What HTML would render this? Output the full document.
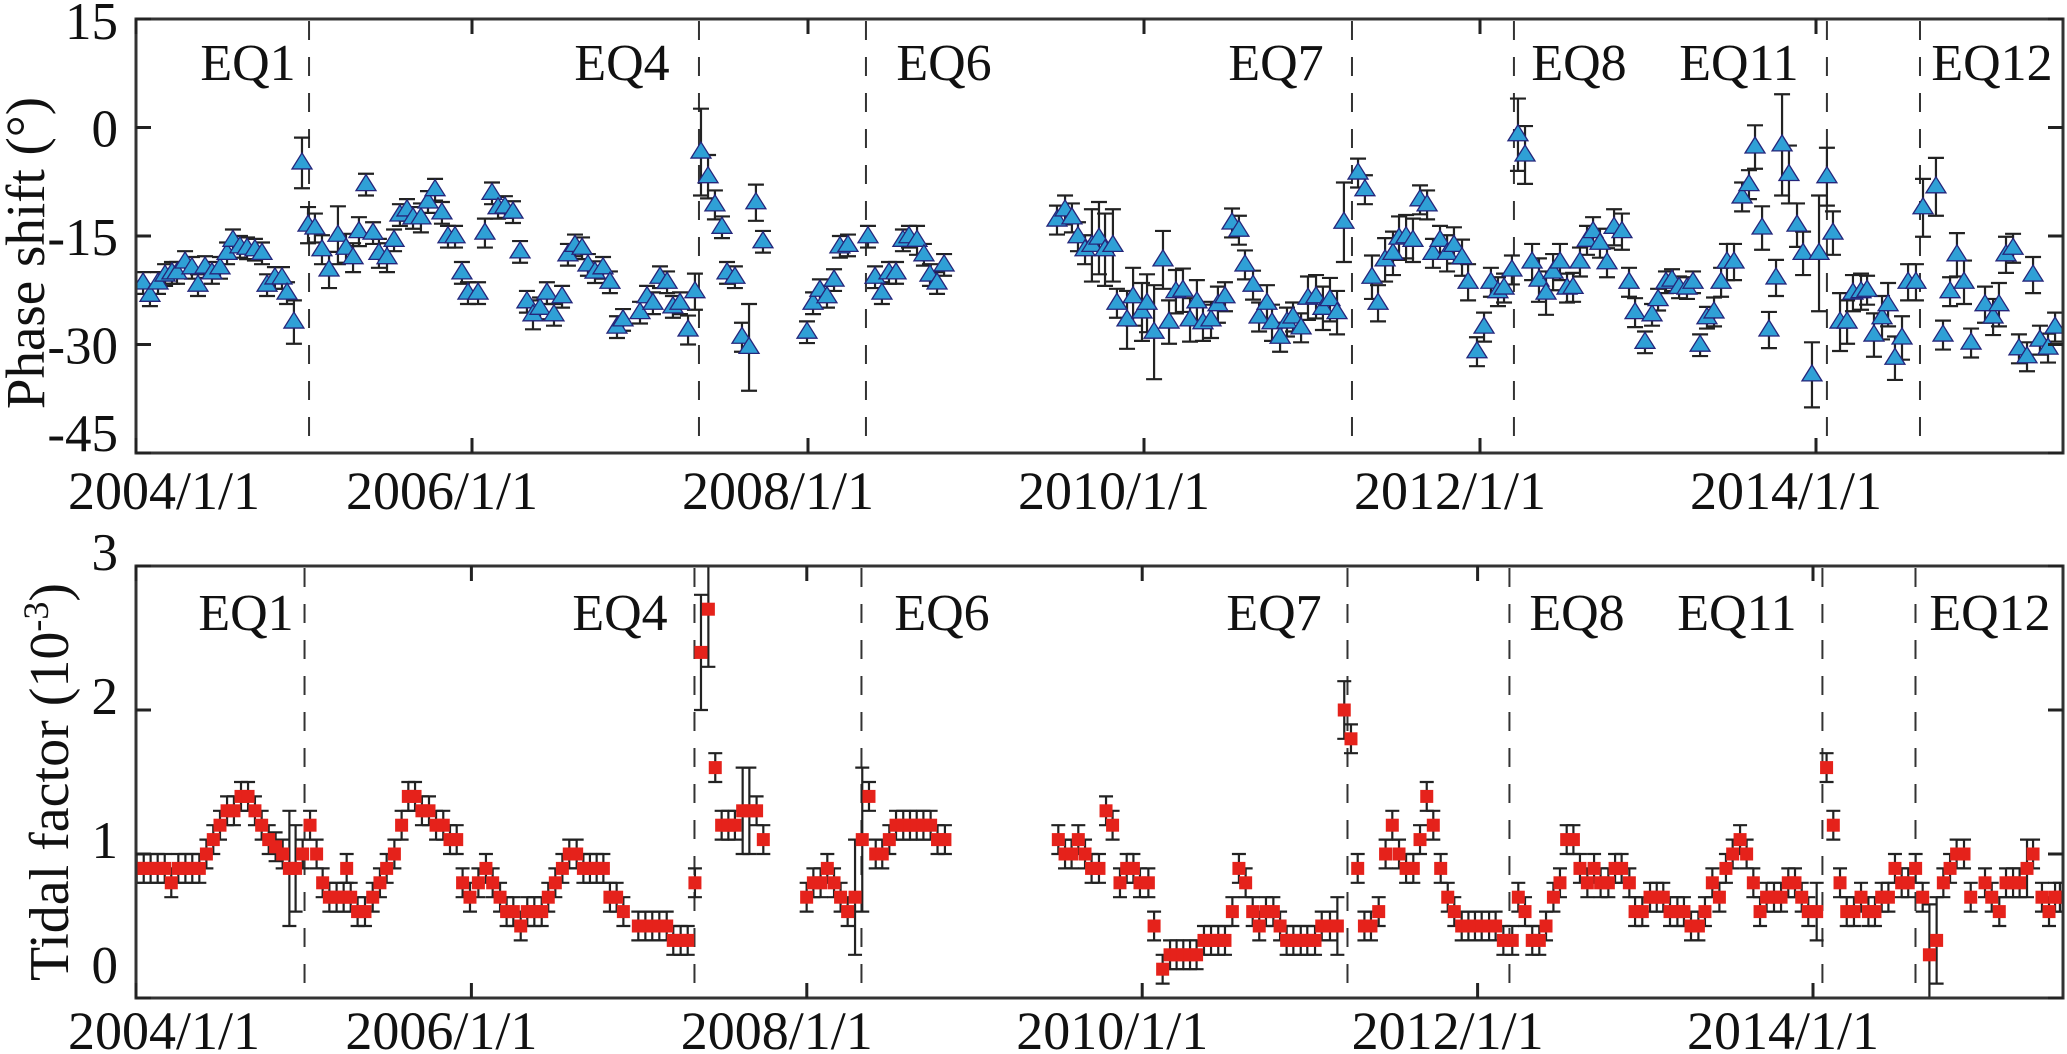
<!DOCTYPE html>
<html>
<head>
<meta charset="utf-8">
<style>
html,body{margin:0;padding:0;background:#fff;}
svg{display:block;}
svg text{font-family:"Liberation Serif","DejaVu Serif",serif;fill:#111;}
</style>
</head>
<body>
<svg id="chart" width="2067" height="1054" viewBox="0 0 2067 1054" xmlns="http://www.w3.org/2000/svg" font-family="Liberation Serif, DejaVu Serif, serif">
  <defs>
    <clipPath id="clipTop"><rect x="136" y="19" width="1927" height="434"/></clipPath>
    <clipPath id="clipBot"><rect x="136" y="566" width="1927" height="432"/></clipPath>
  </defs>
  <rect x="0" y="0" width="2067" height="1054" fill="#fff"/>
  <g id="topPanel"></g>
  <g id="botPanel"></g>
  <text font-family="Liberation Serif, serif" transform="translate(44,253) rotate(-90)" text-anchor="middle" font-size="55">Phase shift (°)</text>
  <text font-family="Liberation Serif, serif" transform="translate(68,782) rotate(-90)" text-anchor="middle" font-size="56">Tidal factor (10<tspan font-size="36" dy="-20">-3</tspan><tspan dy="20">)</tspan></text>
</svg>
<script>
// ===== data =====
// time in years since 2004/1/1
const eqNames = ["EQ1","EQ4","EQ6","EQ7","EQ8","EQ11","EQ12"];
const eqT = [1.03,3.351,4.345,7.238,8.202,10.065,10.619];
const eqLabelTopX = [248,622,944,1276,1579,1739,1992];
const xTickYears = [0,2,4,6,8,10];
const xTickLabels = ["2004/1/1","2006/1/1","2008/1/1","2010/1/1","2012/1/1","2014/1/1"];
const topYTicks = [15,0,-15,-30,-45];
const topYLabels = ["15","0","-15","-30","-45"];
const botYTicks = [3,2,1,0];
const botYLabels = ["3","2","1","0"];

const topT = [
0.042,0.083,0.131,0.173,0.214,0.244,0.292,0.333,0.369,0.411,
0.452,0.5,0.542,0.577,0.619,0.661,0.708,0.75,0.78,0.827,
0.869,0.899,0.94,0.988,1.024,1.065,1.107,1.149,1.202,1.25,
1.292,1.327,1.369,1.411,1.446,1.494,1.536,1.571,1.613,1.649,
1.696,1.738,1.78,1.821,1.857,1.899,1.94,1.976,2.036,2.077,
2.119,2.155,2.196,2.244,2.286,2.327,2.363,2.405,2.446,2.488,
2.536,2.571,2.613,2.655,2.69,2.732,2.78,2.821,2.863,2.899,
3.0,3.042,3.077,3.119,3.161,3.196,3.238,3.286,3.327,3.363,
3.405,3.446,3.488,3.518,3.565,3.607,3.649,3.69,3.732,3.994,
4.03,4.071,4.113,4.155,4.19,4.238,4.357,4.399,4.44,4.482,
4.524,4.565,4.601,4.649,4.69,4.726,4.768,4.81,
5.482,5.53,5.571,5.607,5.649,5.69,5.732,5.768,5.815,5.839,
5.899,5.935,5.988,6.018,6.06,6.113,6.149,6.19,6.232,6.274,
6.315,6.351,6.399,6.44,6.482,6.524,6.565,6.601,6.649,6.685,
6.732,6.762,6.81,6.851,6.887,6.935,6.976,7.024,7.065,7.107,
7.149,7.19,7.274,7.315,7.357,7.393,7.435,7.482,7.518,7.56,
7.601,7.643,7.685,7.72,7.762,7.804,7.845,7.893,7.929,7.982,
8.024,8.065,8.107,8.143,8.19,8.226,8.268,8.31,8.351,8.393,
8.435,8.476,8.518,8.554,8.595,8.637,8.673,
8.714,8.756,8.798,8.845,8.887,8.923,8.982,9.024,9.06,9.107,
9.143,9.185,9.232,9.268,9.31,9.351,9.393,9.435,9.47,9.512,
9.56,9.601,9.637,9.679,9.72,9.762,9.798,9.839,9.887,9.923,
9.976,10.018,10.065,10.101,10.143,10.185,10.22,10.268,10.304,10.345,
10.393,10.429,10.47,10.512,10.548,10.595,10.637,10.714,10.756,10.798,
10.839,10.881,10.923,11.006,11.054,11.089,11.131,11.173,11.208,11.256,
11.292,11.333,11.381,11.423
];
const topV = [
-21.5,-23.2,-21.5,-20.4,-20.1,-20.1,-18.6,-19.4,-21.8,-19.3,
-20.1,-19.4,-17.4,-15.6,-16.5,-16.7,-16.9,-17.4,-21.8,-20.8,
-20.8,-22.9,-26.9,-4.9,-13.5,-13.9,-16.9,-19.7,-14.9,-16.7,
-18.0,-14.4,-7.9,-14.6,-17.4,-18.0,-15.6,-12.1,-11.4,-12.5,
-12.5,-10.3,-8.6,-11.8,-15.1,-15.1,-20.1,-22.9,-22.9,-14.6,
-9.1,-11.1,-11.0,-11.7,-17.2,-24.1,-25.9,-25.0,-22.9,-25.9,
-23.4,-17.6,-16.3,-16.7,-19.0,-20.0,-19.4,-21.4,-27.6,-26.6,
-25.6,-23.4,-24.3,-20.7,-21.4,-24.8,-24.3,-28.0,-22.7,-3.4,
-6.8,-10.7,-13.8,-20.1,-20.7,-29.0,-30.4,-10.4,-15.8,-28.3,
-24.3,-22.5,-23.4,-21.1,-16.5,-16.3,-15.1,-20.7,-22.9,-20.1,
-20.1,-15.6,-15.1,-15.6,-17.6,-20.4,-21.5,-19.0,
-12.8,-11.4,-12.5,-15.1,-16.9,-16.3,-15.3,-16.9,-16.3,-24.3,
-26.6,-23.4,-25.5,-24.3,-28.3,-18.3,-26.9,-22.7,-22.5,-26.6,
-24.1,-27.0,-26.6,-24.5,-23.4,-13.2,-14.2,-19.0,-21.8,-26.2,
-24.3,-27.0,-29.0,-26.9,-26.2,-27.7,-23.6,-23.4,-25.0,-23.8,
-25.6,-13.1,-6.3,-8.6,-20.7,-24.3,-18.3,-17.4,-15.3,-15.1,
-15.6,-10.0,-10.7,-17.4,-15.6,-17.4,-16.3,-18.0,-21.4,-31.0,
-27.6,-21.4,-22.7,-22.2,-19.7,-1.0,-3.8,-18.6,-21.1,-22.9,
-20.0,-18.6,-22.2,-22.1,-18.6,-15.6,-14.4,
-16.0,-18.7,-13.8,-14.4,-21.4,-25.6,-29.7,-25.9,-23.8,-21.4,
-21.1,-22.1,-22.2,-21.4,-30.1,-26.3,-25.5,-21.4,-18.6,-18.6,
-9.6,-7.9,-2.7,-13.9,-28.0,-20.8,-2.4,-6.5,-13.5,-17.4,
-34.2,-17.4,-6.8,-14.6,-26.9,-26.9,-22.9,-22.7,-22.5,-28.7,
-26.3,-24.5,-31.9,-29.1,-21.4,-21.4,-11.1,-8.2,-28.7,-22.7,
-17.6,-21.4,-29.8,-24.5,-26.2,-24.5,-17.6,-16.7,-30.6,-31.7,
-20.4,-29.4,-30.5,-27.6
];
const topE = [
1.5,1.5,1.5,1.5,1.5,1.5,1.5,1.5,1.5,1.5,
1.5,1.5,1.5,1.5,1.5,1.5,1.5,1.5,1.5,1.5,
1.5,1.5,3,3.5,2.5,2,2,2.5,4,2,
2,2,1.5,1.5,2,2,1.5,1.5,1.5,1.5,
2,1.5,1.5,1.5,1.5,1.5,1.5,1.5,1.5,2,
1.5,1.5,1.5,1.5,1.5,1.5,2,1.5,1.5,1.5,
1.5,1.5,1.5,1.5,1.5,1.5,1.5,1.5,1.5,1.5,
1.5,1.5,1.5,1.5,1.5,1.5,1.5,2,2.5,6,
3,2,1.5,1.5,1.5,2,6,2.5,1.5,1.5,
1.5,1.5,1.5,1.5,1.5,1.5,1.5,1.5,1.5,1.5,
1.5,1.5,1.5,2,1.5,1.5,1.5,1.5,
2,2,2,2,2,5,5,5,5,2,
4,4,4,4,6.5,4,3,3,3,3,
3,2.5,2.5,2.5,2,2,2,2,2,2,
2.5,2.5,2,2,2,2,3,3,3,3,
3,5.5,2,2,3,2.5,3,3,3,3,
3,2,2,2,2,2.5,2.5,2.5,2.5,2,
2,2,2,2,2,5,4,2.5,3,3,
2.5,2.5,2,2,2,2,2,
2,2,2.5,2.5,2,2,1.5,1.5,1.5,1.5,
1.5,1.5,1.5,1.5,1.5,1.5,2,2,2.5,2.5,
2,2,3,3,2.5,2.5,7,4,3,3,
4.5,8,4,3,4,3,2.5,2.5,2,3,
3,3,3,3,2.5,2.5,4,4,2,2,
3,3,2,2.5,2.5,3,2.5,2,2,2,
2.5,2,2,2
];

const botT = [
0.004,0.046,0.087,0.129,0.171,0.21,0.252,0.294,0.335,0.377,
0.419,0.46,0.5,0.542,0.583,0.625,0.667,0.708,0.748,0.79,
0.831,0.873,0.913,0.95,0.992,1.036,1.075,1.111,1.151,1.194,
1.236,1.254,1.278,1.319,1.363,1.409,1.452,1.492,1.538,1.581,
1.621,1.661,1.702,1.744,1.786,1.829,1.869,1.909,1.944,1.988,
2.038,2.083,2.123,2.167,2.206,2.246,2.29,2.329,2.371,2.415,
2.454,2.496,2.538,2.579,2.623,2.663,2.702,2.742,2.782,2.821,
2.861,2.901,
2.99,3.032,3.073,3.115,3.159,3.198,3.242,3.284,3.327,3.363,3.407,3.448,3.486,3.526,3.565,3.611,3.651,3.694,3.734,
3.992,4.032,4.075,4.115,4.155,4.194,4.236,4.28,4.323,4.363,4.403,4.442,4.484,4.524,4.567,4.607,4.647,4.687,4.73,4.771,4.815,
5.49,5.53,5.569,5.609,5.649,5.688,5.732,5.774,5.813,
5.857,5.897,5.937,5.976,6.026,6.06,6.111,6.155,6.194,6.234,
6.274,6.313,6.357,6.399,6.442,6.482,6.526,6.565,6.605,6.647,
6.686,6.726,6.77,6.81,6.849,6.889,6.933,6.972,7.018,7.058,
7.107,7.151,7.192,7.232,7.272,7.312,7.351,7.397,7.438,7.478,
7.518,7.56,7.603,7.643,7.683,7.722,7.766,7.808,7.847,7.891,
7.931,7.97,8.01,8.054,8.093,8.139,8.192,8.228,8.268,8.311,
8.353,8.393,8.437,8.476,8.516,8.556,8.595,8.639,8.679,
8.718,8.764,8.804,8.843,8.889,8.923,8.966,9.012,9.052,9.091,
9.131,9.175,9.214,9.256,9.3,9.339,9.383,9.425,9.464,9.504,
9.548,9.587,9.627,9.667,9.706,9.75,9.792,9.835,9.875,9.915,
9.954,10.004,10.063,10.103,10.143,10.183,10.226,10.268,10.312,10.351,
10.391,10.431,10.47,10.51,10.549,10.593,10.635,10.675,10.718,10.758,
10.798,10.837,10.881,10.921,11.006,11.046,11.091,11.131,11.173,11.212,
11.256,11.292,11.345,11.387,11.423,11.452
];
const botV = [
0.9,0.9,0.9,0.9,0.9,0.8,0.9,0.9,0.9,0.9,
1.0,1.1,1.2,1.3,1.3,1.4,1.4,1.3,1.2,1.1,
1.05,1.0,0.9,0.9,1.0,1.2,1.0,0.8,0.7,0.7,
0.7,0.9,0.7,0.6,0.6,0.7,0.8,0.9,1.0,1.2,
1.4,1.4,1.3,1.3,1.2,1.2,1.1,1.1,0.8,0.7,
0.8,0.9,0.8,0.7,0.6,0.6,0.5,0.6,0.6,0.6,
0.7,0.8,0.9,1.0,1.0,0.9,0.9,0.9,0.9,0.7,
0.7,0.6,
0.5,0.5,0.5,0.5,0.5,0.4,0.4,0.4,0.8,2.4,2.7,1.6,1.2,1.2,1.2,1.3,1.3,1.3,1.1,
0.7,0.8,0.8,0.9,0.8,0.7,0.6,0.7,1.1,1.4,1.0,1.0,1.1,1.2,1.2,1.2,1.2,1.2,1.2,1.1,1.1,
1.1,1.0,1.0,1.1,1.0,0.9,0.9,1.3,1.2,
0.8,0.9,0.9,0.8,0.8,0.5,0.2,0.3,0.3,0.3,
0.3,0.3,0.4,0.4,0.4,0.4,0.6,0.9,0.8,0.6,
0.5,0.6,0.6,0.5,0.4,0.4,0.4,0.4,0.4,0.5,
0.5,0.5,2.0,1.8,0.9,0.5,0.5,0.6,1.0,1.2,
1.0,0.9,0.9,1.1,1.4,1.2,0.9,0.7,0.6,0.5,
0.5,0.5,0.5,0.5,0.5,0.4,0.4,0.7,0.6,0.4,
0.4,0.5,0.7,0.8,1.1,1.1,0.9,0.8,0.9,
0.8,0.8,0.9,0.9,0.8,0.6,0.6,0.7,0.7,0.7,
0.6,0.6,0.6,0.5,0.5,0.6,0.8,0.7,0.9,1.0,
1.1,1.0,0.8,0.6,0.7,0.7,0.7,0.8,0.8,0.7,
0.6,0.6,1.6,1.2,0.8,0.6,0.6,0.7,0.6,0.6,
0.7,0.7,0.9,0.8,0.8,0.9,0.7,0.3,0.4,0.8,
0.9,1.0,1.0,0.7,0.8,0.7,0.6,0.8,0.8,0.8,
0.9,1.0,0.7,0.6,0.7,0.7
];
const botE = [
0.1,0.1,0.1,0.1,0.1,0.1,0.1,0.1,0.1,0.1,
0.1,0.1,0.1,0.1,0.1,0.1,0.1,0.1,0.1,0.1,
0.1,0.1,0.4,0.3,0.1,0.1,0.1,0.1,0.1,0.1,
0.1,0.1,0.1,0.1,0.1,0.1,0.1,0.1,0.1,0.1,
0.1,0.1,0.1,0.1,0.1,0.1,0.1,0.1,0.1,0.1,
0.1,0.1,0.1,0.1,0.1,0.1,0.1,0.1,0.1,0.1,
0.1,0.1,0.1,0.1,0.1,0.1,0.1,0.1,0.1,0.1,
0.1,0.1,
0.1,0.1,0.1,0.1,0.1,0.1,0.1,0.1,0.1,0.4,0.4,0.1,0.1,0.1,0.1,0.3,0.3,0.1,0.1,
0.1,0.1,0.1,0.1,0.1,0.1,0.1,0.4,0.5,0.1,0.1,0.1,0.1,0.1,0.1,0.1,0.1,0.1,0.1,0.1,0.1,
0.1,0.1,0.1,0.1,0.1,0.1,0.1,0.1,0.1,
0.1,0.1,0.1,0.1,0.1,0.1,0.1,0.1,0.1,0.1,
0.1,0.1,0.1,0.1,0.1,0.1,0.1,0.1,0.1,0.1,
0.1,0.1,0.1,0.1,0.1,0.1,0.1,0.1,0.1,0.1,
0.1,0.2,0.2,0.1,0.1,0.1,0.1,0.1,0.1,0.1,
0.1,0.1,0.1,0.1,0.1,0.1,0.1,0.1,0.1,0.1,
0.1,0.1,0.1,0.1,0.1,0.1,0.1,0.1,0.1,0.1,
0.1,0.1,0.1,0.1,0.1,0.1,0.1,0.1,0.1,
0.1,0.1,0.1,0.1,0.1,0.1,0.1,0.1,0.1,0.1,
0.1,0.1,0.1,0.1,0.1,0.1,0.1,0.1,0.1,0.1,
0.1,0.1,0.1,0.1,0.1,0.1,0.1,0.1,0.1,0.1,
0.1,0.2,0.1,0.1,0.1,0.1,0.1,0.1,0.1,0.1,
0.1,0.1,0.1,0.1,0.1,0.1,0.1,0.35,0.3,0.1,
0.1,0.1,0.1,0.1,0.1,0.1,0.1,0.1,0.1,0.1,
0.2,0.1,0.1,0.1,0.1,0.1
];

// ===== axes =====
const NS = "http://www.w3.org/2000/svg";
const L = 136, R = 2063;
const FONT = "Liberation Serif, DejaVu Serif, serif";
const xScale = t => L + 168 * t;
const topY = v => 19 + (15 - v) * 7.233;
const botY = v => 998 - 144 * v;

function mk(tag, attrs, parent) {
  const el = document.createElementNS(NS, tag);
  for (const k in attrs) el.setAttribute(k, attrs[k]);
  parent.appendChild(el);
  return el;
}

function drawPanel(g, cfg) {
  const top = cfg.top, bot = cfg.bot;
  eqT.forEach((t, i) => {
    const x = xScale(t) + cfg.eqShift;
    const ln = mk('line', {x1: x, x2: x, y1: top + 2, y2: bot, stroke: '#333', 'stroke-width': 2, 'stroke-dasharray': '19,17'}, g);
    
    
    const tx = mk('text', {x: eqLabelTopX[i] + cfg.eqLabelShift, y: cfg.eqLabelY, 'text-anchor': 'middle', 'font-size': 52, 'font-family': FONT}, g);
    tx.textContent = eqNames[i];
    
    
  });
  const dg = mk('g', {'clip-path': cfg.clip}, g);
  
  
  for (let i = 0; i < cfg.T.length; i++) {
    const x = xScale(cfg.T[i]);
    const y1 = cfg.yf(cfg.V[i] + cfg.E[i]);
    const y2 = cfg.yf(cfg.V[i] - cfg.E[i]);
    const eb = mk('path', {d: `M${x},${y1}V${y2}M${x - cfg.cap},${y1}H${x + cfg.cap}M${x - cfg.cap},${y2}H${x + cfg.cap}`, stroke: '#222', 'stroke-width': 2.2, fill: 'none'}, dg);
    
    
  }
  for (let i = 0; i < cfg.T.length; i++) {
    const x = xScale(cfg.T[i]);
    const y = cfg.yf(cfg.V[i]);
    let m;
    if (cfg.marker === 'tri') {
      m = mk('polygon', {points: `${x},${y - 10} ${x - 10},${y + 6} ${x + 10},${y + 6}`, fill: '#2fa0d6', stroke: '#25257a', 'stroke-width': 1.3}, dg);
      
    } else {
      m = mk('rect', {x: x - 6.5, y: y - 6.5, width: 13, height: 13, fill: '#e5221b'}, dg);
      
    }
    
  }
  const fr = mk('rect', {x: L, y: top, width: R - L, height: bot - top, fill: 'none', stroke: '#333', 'stroke-width': 3}, g);
  
  
  xTickYears.forEach((t, i) => {
    const x = xScale(t) + cfg.xTickShift * t / 10;
    const tk = mk('path', {d: `M${x},${bot}v-15M${x},${top}v15`, stroke: '#222', 'stroke-width': 3}, g);
    
    
    const lx = Math.max(x - 30, 164);
    const lb = mk('text', {x: lx, y: cfg.xLabelY, 'text-anchor': 'middle', 'font-size': 54, 'font-family': FONT}, g);
    lb.textContent = xTickLabels[i];
    
    
  });
  cfg.yTicks.forEach((v, i) => {
    const y = cfg.yf(v);
    const tk = mk('path', {d: `M${L},${y}h15M${R},${y}h-15`, stroke: '#222', 'stroke-width': 3}, g);
    
    
    const ly = Math.min(Math.max(y + cfg.yLabelShift, cfg.yLabelMin), cfg.yLabelMax);
    const lb = mk('text', {x: 118, y: ly, 'text-anchor': 'end', 'dominant-baseline': 'central', 'font-size': 53, 'font-family': FONT}, g);
    lb.textContent = cfg.yLabels[i];
    
    
  });
}

drawPanel(document.getElementById('topPanel'), {
  name: 'phase-shift', top: 19, bot: 453, yf: topY, T: topT, V: topV, E: topE,
  marker: 'tri', cap: 8, clip: 'url(#clipTop)', eqShift: 0, eqLabelShift: 0, eqLabelY: 80,
  xLabelY: 509, xTickShift: 0, yTicks: topYTicks, yLabels: topYLabels,
  yLabelShift: 2, yLabelMin: 22, yLabelMax: 434
});
drawPanel(document.getElementById('botPanel'), {
  name: 'tidal-factor', top: 566, bot: 998, yf: botY, T: botT, V: botV, E: botE,
  marker: 'sq', cap: 7, clip: 'url(#clipBot)', eqShift: -4.5, eqLabelShift: -2, eqLabelY: 630,
  xLabelY: 1049, xTickShift: -3, yTicks: botYTicks, yLabels: botYLabels,
  yLabelShift: -13, yLabelMin: 549, yLabelMax: 966
});
</script>
</body>
</html>
